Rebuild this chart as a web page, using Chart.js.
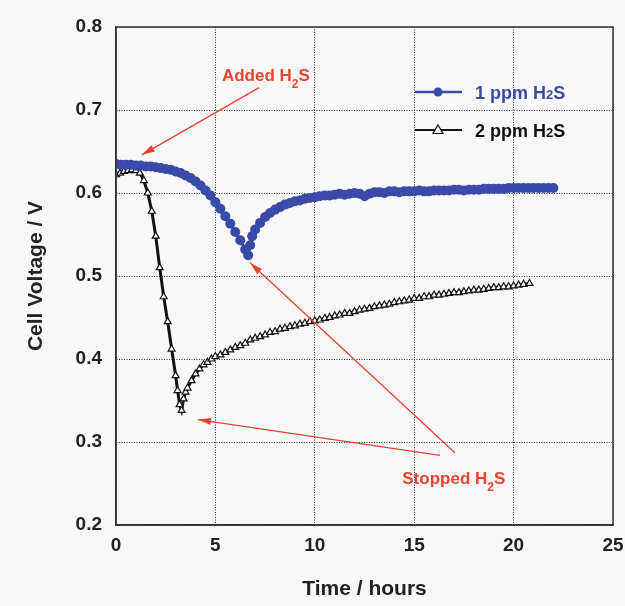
<!DOCTYPE html>
<html>
<head>
<meta charset="utf-8">
<script src="https://cdn.jsdelivr.net/npm/chart.js@4.4.0/dist/chart.umd.min.js"></script>
<style>
  html, body { margin: 0; padding: 0; background: #f8f8f8; }
  #wrap { width: 625px; height: 606px; }
</style>
</head>
<body>
<div id="wrap"><canvas id="myChart"></canvas></div>
<script>
// 1 ppm H2S (hours, volts)
const time1 = [0, 0.25, 0.5, 0.75, 1, 1.25, 1.5, 1.75, 2, 2.25, 2.5, 2.75, 3, 3.25, 3.5, 3.75, 4, 4.25, 4.5, 4.75,
    5, 5.25, 5.5, 5.75, 6, 6.25, 6.5, 6.65, 6.75, 6.85,
    7, 7.25, 7.5, 7.75, 8, 8.25, 8.5, 8.75, 9, 9.25, 9.5, 9.75, 10, 10.25, 10.5, 10.75, 11, 11.25, 11.5, 11.75,
    12, 12.25, 12.5, 12.75, 13, 13.25, 13.5, 13.75, 14, 14.25, 14.5, 14.75, 15, 15.25, 15.5, 15.75, 16, 16.25, 16.5, 16.75,
    17, 17.25, 17.5, 17.75, 18, 18.25, 18.5, 18.75, 19, 19.25, 19.5, 19.75, 20, 20.25, 20.5, 20.75, 21, 21.25, 21.5, 21.75, 22];
const volt1 = [0.635, 0.634, 0.634, 0.634, 0.633, 0.633, 0.632, 0.632, 0.631, 0.630, 0.629, 0.628, 0.626, 0.624, 0.621, 0.618, 0.614, 0.609, 0.603, 0.597,
    0.589, 0.581, 0.572, 0.563, 0.553, 0.543, 0.532, 0.525, 0.537, 0.548,
    0.556, 0.564, 0.571, 0.576, 0.580, 0.583, 0.586, 0.588, 0.590, 0.591, 0.593, 0.594, 0.595, 0.596, 0.597, 0.597, 0.598, 0.599, 0.598, 0.599,
    0.600, 0.599, 0.596, 0.599, 0.601, 0.601, 0.600, 0.602, 0.602, 0.601, 0.602, 0.602, 0.602, 0.603, 0.602, 0.602, 0.603, 0.603, 0.603, 0.603,
    0.604, 0.604, 0.603, 0.604, 0.604, 0.604, 0.605, 0.605, 0.605, 0.605, 0.605, 0.606, 0.606, 0.606, 0.606, 0.606, 0.606, 0.606, 0.606, 0.606, 0.606];

// 2 ppm H2S
const time2 = [0, 0.2, 0.4, 0.6, 0.8, 1, 1.2, 1.4, 1.6, 1.8, 2, 2.2, 2.4, 2.6, 2.8, 3, 3.1, 3.2, 3.3, 3.4, 3.5, 3.6, 3.8, 4, 4.2, 4.4, 4.6, 4.8,
    5, 5.25, 5.5, 5.75, 6, 6.25, 6.5, 6.75, 7, 7.25, 7.5, 7.75, 8, 8.25, 8.5, 8.75, 9, 9.25, 9.5, 9.75,
    10, 10.25, 10.5, 10.75, 11, 11.25, 11.5, 11.75, 12, 12.25, 12.5, 12.75, 13, 13.25, 13.5, 13.75, 14, 14.25, 14.5, 14.75,
    15, 15.25, 15.5, 15.75, 16, 16.25, 16.5, 16.75, 17, 17.25, 17.5, 17.75, 18, 18.25, 18.5, 18.75, 19, 19.25, 19.5, 19.75,
    20, 20.25, 20.5, 20.8];
const volt2 = [0.622, 0.624, 0.626, 0.627, 0.628, 0.627, 0.624, 0.615, 0.600, 0.578, 0.548, 0.510, 0.475, 0.445, 0.412, 0.380, 0.362, 0.345, 0.338, 0.352, 0.360, 0.365, 0.374, 0.382, 0.388, 0.393, 0.396, 0.400,
    0.403, 0.405, 0.408, 0.411, 0.414, 0.416, 0.419, 0.423, 0.425, 0.427, 0.429, 0.432, 0.433, 0.436, 0.437, 0.439, 0.440, 0.442, 0.443, 0.445,
    0.446, 0.447, 0.449, 0.450, 0.452, 0.453, 0.455, 0.455, 0.457, 0.459, 0.460, 0.461, 0.463, 0.464, 0.465, 0.466, 0.468, 0.469, 0.470, 0.471,
    0.473, 0.473, 0.475, 0.475, 0.477, 0.477, 0.478, 0.479, 0.480, 0.480, 0.481, 0.482, 0.483, 0.483, 0.484, 0.485, 0.486, 0.486, 0.487, 0.487,
    0.488, 0.489, 0.490, 0.491];

const seriesLabels = ["1 ppm H2S", "2 ppm H2S"];
const xTicks = [0, 5, 10, 15, 20, 25];
const yTicks = [0.2, 0.3, 0.4, 0.5, 0.6, 0.7, 0.8];

// annotation arrows in data units: [fromX, fromY, toX, toY]
const addedArrow = [7.2, 0.727, 1.3, 0.646];
const stoppedArrows = [
    [17.05, 0.287, 6.74, 0.516],
    [16.3, 0.284, 4.12, 0.327]
];
const addedText = [5.33, 0.735];
const stoppedText = [14.4, 0.249];

const blue = "#3a4aa8";
const red = "#e8432f";
const FONT = "'Liberation Sans', Arial, sans-serif";

function toPoints(xs, ys) {
    return xs.map((x, i) => ({x: x, y: ys[i]}));
}

function arrow(ctx, x1, y1, x2, y2) {
    ctx.beginPath();
    ctx.moveTo(x1, y1);
    ctx.lineTo(x2, y2);
    ctx.stroke();
    const a = Math.atan2(y2 - y1, x2 - x1);
    const len = 13, w = 3.5;
    ctx.beginPath();
    ctx.moveTo(x2, y2);
    ctx.lineTo(x2 - len * Math.cos(a) + w * Math.sin(a), y2 - len * Math.sin(a) - w * Math.cos(a));
    ctx.lineTo(x2 - len * Math.cos(a) - w * Math.sin(a), y2 - len * Math.sin(a) + w * Math.cos(a));
    ctx.closePath();
    ctx.fill();
}

// draws "H2S" style text with subscript 2
function subText(ctx, parts, x, y, size, subDrop) {
    let cx = x;
    parts.forEach(p => {
        ctx.font = "bold " + (p.sub ? Math.round(size * 0.7) : size) + "px " + FONT;
        ctx.fillText(p.t, cx, y + (p.sub ? subDrop : 0));
        cx += ctx.measureText(p.t).width;
    });
}

const extras = {
    id: "extras",
    beforeDraw(chart) {
        const c = chart.ctx;
        c.save();
        c.fillStyle = "#f8f8f8";
        c.fillRect(0, 0, chart.width, chart.height);
        c.restore();
    },
    afterDraw(chart) {
        const c = chart.ctx;
        const xs = chart.scales.x, ys = chart.scales.y;
        const a = chart.chartArea;
        c.save();
        // frame
        c.strokeStyle = "#333";
        c.lineWidth = 1.5;
        c.strokeRect(a.left, a.top, a.right - a.left, a.bottom - a.top);

        // legend
        const lx = a.left + 299, ly1 = a.top + 65, ly2 = a.top + 103;
        c.lineWidth = 2.5;
        c.strokeStyle = blue;
        c.beginPath(); c.moveTo(lx, ly1); c.lineTo(lx + 47, ly1); c.stroke();
        c.fillStyle = blue;
        c.beginPath(); c.arc(lx + 23, ly1, 4.5, 0, Math.PI * 2); c.fill();
        c.textBaseline = "alphabetic";
        subText(c, [{t: "1 ppm H"}, {t: "2", sub: true}, {t: "S"}], lx + 60, ly1 + 7, 18, 0);

        c.strokeStyle = "#111";
        c.lineWidth = 2;
        c.beginPath(); c.moveTo(lx, ly2); c.lineTo(lx + 47, ly2); c.stroke();
        c.fillStyle = "#fff";
        c.lineWidth = 1.2;
        c.beginPath();
        c.moveTo(lx + 23, ly2 - 5); c.lineTo(lx + 28, ly2 + 3.5); c.lineTo(lx + 18, ly2 + 3.5); c.closePath();
        c.fill(); c.stroke();
        c.fillStyle = "#111";
        subText(c, [{t: "2 ppm H"}, {t: "2", sub: true}, {t: "S"}], lx + 60, ly2 + 7, 18, 0);

        // annotations
        c.strokeStyle = red;
        c.fillStyle = red;
        c.lineWidth = 1.3;
        arrow(c, xs.getPixelForValue(addedArrow[0]), ys.getPixelForValue(addedArrow[1]),
            xs.getPixelForValue(addedArrow[2]), ys.getPixelForValue(addedArrow[3]));
        stoppedArrows.forEach(s => {
            arrow(c, xs.getPixelForValue(s[0]), ys.getPixelForValue(s[1]),
                xs.getPixelForValue(s[2]), ys.getPixelForValue(s[3]));
        });
        subText(c, [{t: "Added H"}, {t: "2", sub: true}, {t: "S"}],
            xs.getPixelForValue(addedText[0]), ys.getPixelForValue(addedText[1]), 17, 7);
        subText(c, [{t: "Stopped H"}, {t: "2", sub: true}, {t: "S"}],
            xs.getPixelForValue(stoppedText[0]), ys.getPixelForValue(stoppedText[1]), 17, 7);
        c.restore();
    }
};

const chartData = {
    type: "line",
    data: {
        datasets: [
            {
                label: seriesLabels[0],
                data: toPoints(time1, volt1),
                borderColor: blue,
                backgroundColor: blue,
                borderWidth: 3,
                pointRadius: 5,
                pointBorderWidth: 0,
                pointStyle: "circle",
                tension: 0,
            },
            {
                label: seriesLabels[1],
                data: toPoints(time2, volt2),
                borderColor: "#111",
                backgroundColor: "#fff",
                borderWidth: 3,
                pointRadius: 4,
                pointBorderWidth: 1.2,
                pointBorderColor: "#111",
                pointBackgroundColor: "#fff",
                pointStyle: "triangle",
                tension: 0,
            },
        ]
    },
    options: {
        responsive: true,
        maintainAspectRatio: false,
        animation: false,
        layout: {padding: {top: 27, right: 12, left: 0, bottom: 0}},
        plugins: {
            legend: {display: false},
            tooltip: {enabled: false}
        },
        scales: {
            x: {
                type: "linear",
                min: 0,
                max: 25,
                afterBuildTicks: s => { s.ticks = xTicks.map(v => ({value: v})); },
                afterFit: s => { s.height = 81; s.paddingRight = 0; s.paddingLeft = 0; },
                grid: {color: "#333", lineWidth: 1, tickLength: 0},
                border: {display: true, color: "#333", width: 1.5, dash: [1, 1.5]},
                ticks: {color: "#222", font: {family: FONT, size: 19, weight: "bold"}, padding: 9, maxRotation: 0},
                title: {display: true, text: "Time / hours", color: "#222", font: {family: FONT, size: 21, weight: "bold"}, padding: {top: 10}}
            },
            y: {
                type: "linear",
                min: 0.2,
                max: 0.8,
                afterBuildTicks: s => { s.ticks = yTicks.map(v => ({value: v})); },
                afterFit: s => { s.width = 116; },
                grid: {color: "#333", lineWidth: 1, tickLength: 0},
                border: {display: true, color: "#333", width: 1.5, dash: [1, 1.5]},
                ticks: {color: "#222", font: {family: FONT, size: 19, weight: "bold"}, padding: 14, callback: v => v.toFixed(1)},
                title: {display: true, text: "Cell Voltage / V", color: "#222", font: {family: FONT, size: 21, weight: "bold"}, padding: {top: 24, bottom: 0}}
            }
        }
    },
    plugins: [extras]
};

const ctx = document.getElementById("myChart");
new Chart(ctx, chartData);
</script>
</body>
</html>
